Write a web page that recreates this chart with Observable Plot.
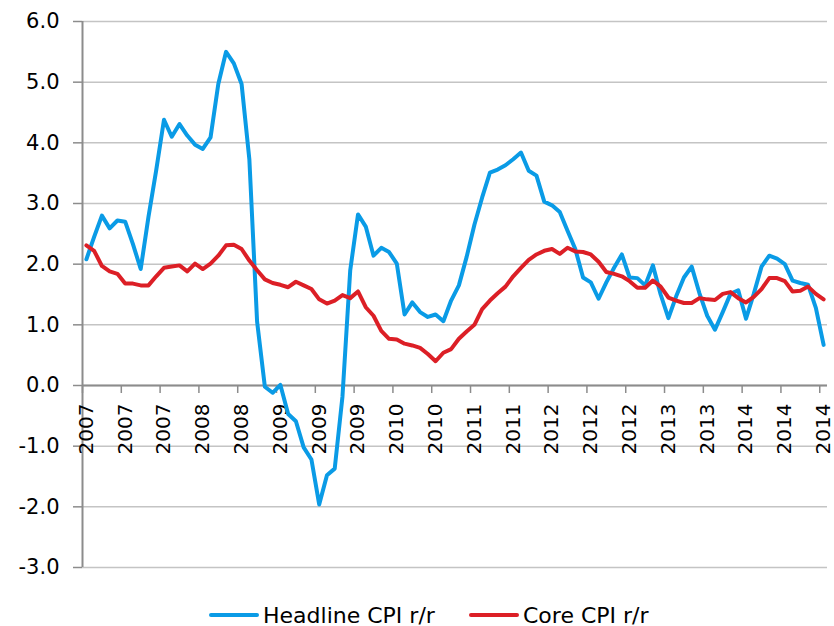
<!DOCTYPE html>
<html><head><meta charset="utf-8">
<script src="https://cdn.jsdelivr.net/npm/d3@7"></script>
<script src="https://cdn.jsdelivr.net/npm/@observablehq/plot@0.6"></script>
<style>
html,body{margin:0;padding:0;background:#fff;}
#wrap{position:relative;width:834px;height:626px;font-family:"DejaVu Sans",Verdana,sans-serif;overflow:hidden;}
#wrap svg{position:absolute;left:0;top:0;}
.leg{position:absolute;top:603px;height:24px;display:flex;align-items:center;font-size:22px;color:#000;white-space:nowrap;}
.leg .sw{width:50px;height:4px;border-radius:2px;margin-right:4px;}
</style></head><body><div id="wrap"></div>
<script>
// Monthly values, Jan 2007 .. Dec 2014
const headline = [
  2.08, 2.45, 2.80, 2.59, 2.72, 2.70, 2.33, 1.92, 2.78, 3.55, 4.38, 4.10,
  4.31, 4.12, 3.97, 3.90, 4.09, 4.97, 5.50, 5.31, 4.97, 3.73, 1.05, -0.02,
  -0.12, 0.01, -0.47, -0.59, -1.02, -1.22, -1.96, -1.48, -1.37, -0.18, 1.90, 2.82,
  2.62, 2.14, 2.27, 2.20, 2.01, 1.17, 1.37, 1.21, 1.13, 1.17, 1.06, 1.40,
  1.65, 2.12, 2.65, 3.10, 3.51, 3.56, 3.63, 3.73, 3.84, 3.54, 3.46, 3.03,
  2.97, 2.86, 2.55, 2.25, 1.78, 1.70, 1.43, 1.70, 1.94, 2.16, 1.78, 1.77,
  1.65, 1.98, 1.50, 1.11, 1.47, 1.78, 1.96, 1.52, 1.15, 0.92, 1.21, 1.51,
  1.57, 1.10, 1.51, 1.96, 2.14, 2.09, 2.00, 1.73, 1.69, 1.66, 1.28, 0.67
];
const core = [
  2.31, 2.22, 1.97, 1.88, 1.84, 1.68, 1.68, 1.65, 1.65, 1.80, 1.94, 1.96,
  1.98, 1.88, 2.01, 1.92, 2.01, 2.14, 2.31, 2.32, 2.25, 2.06, 1.90, 1.75,
  1.69, 1.66, 1.62, 1.71, 1.65, 1.59, 1.42, 1.35, 1.40, 1.49, 1.44, 1.55,
  1.29, 1.15, 0.90, 0.77, 0.76, 0.69, 0.66, 0.62, 0.52, 0.40, 0.54, 0.60,
  0.77, 0.89, 1.00, 1.26, 1.40, 1.52, 1.63, 1.80, 1.94, 2.07, 2.16, 2.22,
  2.25, 2.17, 2.27, 2.21, 2.20, 2.16, 2.04, 1.87, 1.84, 1.80, 1.72, 1.61,
  1.61, 1.73, 1.63, 1.45, 1.40, 1.36, 1.36, 1.44, 1.42, 1.41, 1.51, 1.54,
  1.44, 1.37, 1.46, 1.59, 1.77, 1.77, 1.72, 1.55, 1.56, 1.63, 1.51, 1.42
];
const xTickLabels = ["2007","2007","2007","2008","2008","2009","2009","2009","2010","2010",
                     "2011","2011","2012","2012","2012","2013","2013","2014","2014","2014"];
const tickEvery = 5;
const yTicks = [-3, -2, -1, 0, 1, 2, 3, 4, 5, 6];
const seriesNames = ["Headline CPI r/r", "Core CPI r/r"];
const seriesColors = ["#0a9be6", "#dc1f26"];

const n = headline.length;
const rows = arr => arr.map((v, i) => ({i, v}));
const labelRows = xTickLabels.map((label, k) => ({i: k * tickEvery, label}));
const tickPos = labelRows.map(d => d.i - 0.5);
const fmt = d => d.toFixed(1);

const chart = Plot.plot({
  width: 834, height: 596,
  marginLeft: 82, marginRight: 7, marginTop: 21, marginBottom: 29,
  style: {fontFamily: "DejaVu Sans, Verdana, sans-serif", background: "#fff", color: "#000"},
  x: {domain: [-0.5, n - 0.5], axis: null},
  y: {domain: [-3, 6], axis: null},
  marks: [
    Plot.gridY(yTicks, {stroke: "#c4c4c4", strokeOpacity: 1, strokeWidth: 1.5}),
    Plot.axisY(yTicks, {tickSize: 9, tickPadding: 14, tickFormat: fmt, fontSize: 21,
      stroke: "#8c8c8c", strokeWidth: 1.5, fill: "#000", label: null}),
    Plot.ruleX([-0.5], {stroke: "#8c8c8c", strokeWidth: 2}),
    Plot.ruleY([0], {stroke: "#8c8c8c", strokeWidth: 2}),
    Plot.ruleX(tickPos, {y1: 0, y2: 0, insetBottom: -8, stroke: "#8c8c8c", strokeWidth: 1.5}),
    Plot.text(labelRows, {x: "i", y: 0, text: "label", rotate: -90, textAnchor: "end",
      dy: 18, fontSize: 20, fill: "#000", ariaLabel: "x-labels"}),
    Plot.line(rows(headline), {x: "i", y: "v", stroke: seriesColors[0], strokeWidth: 4,
      strokeLinejoin: "round", strokeLinecap: "round"}),
    Plot.line(rows(core), {x: "i", y: "v", stroke: seriesColors[1], strokeWidth: 4,
      strokeLinejoin: "round", strokeLinecap: "round"})
  ]
});

chart.querySelectorAll('g[aria-label="x-labels"] text').forEach(t => {
  t.setAttribute("transform", (t.getAttribute("transform") || "") + " scale(1,1.3)");
});

const wrap = document.getElementById("wrap");
wrap.appendChild(chart);

const legendLefts = [209, 469];
seriesNames.forEach((name, k) => {
  const item = document.createElement("div");
  item.className = "leg";
  item.style.left = legendLefts[k] + "px";
  const sw = document.createElement("span");
  sw.className = "sw";
  sw.style.background = seriesColors[k];
  const tx = document.createElement("span");
  tx.textContent = name;
  item.appendChild(sw);
  item.appendChild(tx);
  wrap.appendChild(item);
});
</script></body></html>
